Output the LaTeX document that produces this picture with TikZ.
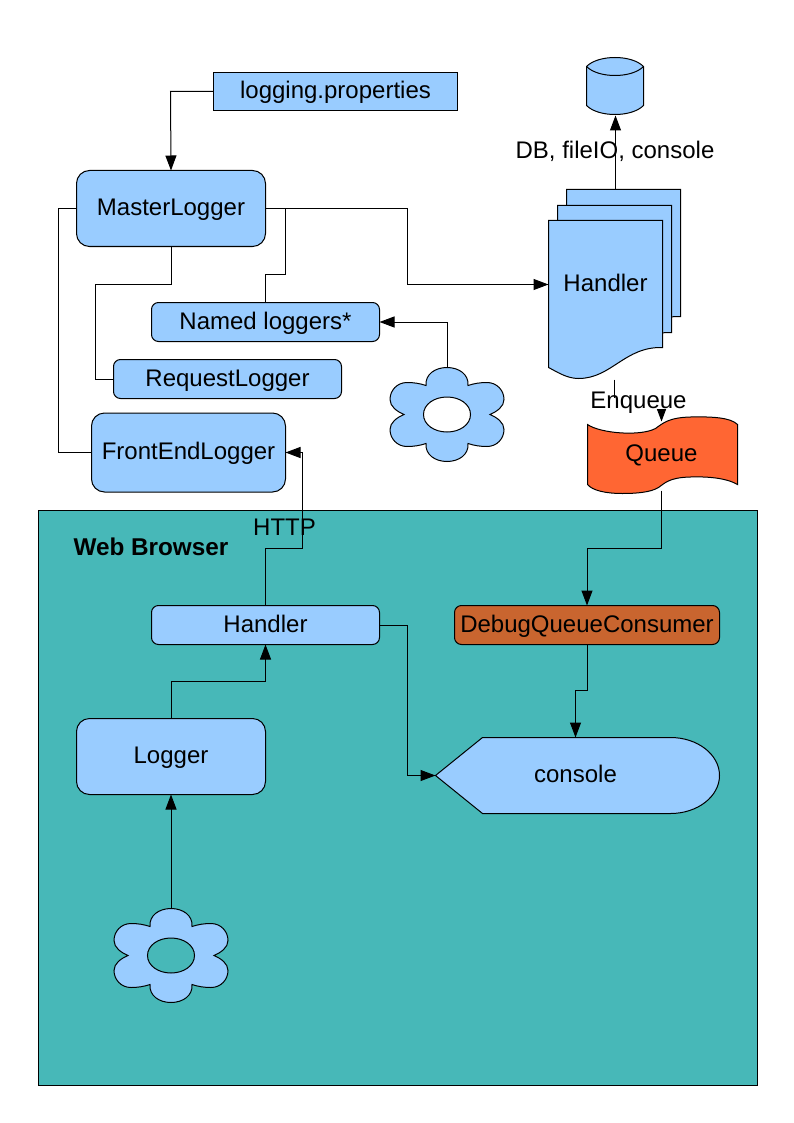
\documentclass[tikz,border=0pt]{standalone}
\usepackage{fontspec}
\setmainfont{Liberation Sans}
\usetikzlibrary{arrows.meta}
\definecolor{boxblue}{HTML}{99CCFF}
\definecolor{teal}{HTML}{47B8B8}
\definecolor{queueorange}{HTML}{FF6633}
\definecolor{consumer}{HTML}{C9652F}
\newcommand{\flowerpath}{
  (-21,-29) .. controls (-22,-40) and (-12,-47) .. (0,-47) .. controls (12,-47) and (22,-40) .. (21,-29)
  .. controls (27,-31) and (33,-32) .. (40,-32) .. controls (50,-32) and (57,-24) .. (57,-15) .. controls (57,-8) and (50,-3) .. (43,0)
  .. controls (50,3) and (57,8) .. (57,15) .. controls (57,24) and (50,32) .. (40,32) .. controls (33,32) and (27,31) .. (21,29)
  .. controls (22,40) and (12,47) .. (0,47) .. controls (-12,47) and (-22,40) .. (-21,29)
  .. controls (-27,31) and (-33,32) .. (-40,32) .. controls (-50,32) and (-57,24) .. (-57,15) .. controls (-57,8) and (-50,3) .. (-43,0)
  .. controls (-50,-3) and (-57,-8) .. (-57,-15) .. controls (-57,-24) and (-50,-32) .. (-40,-32) .. controls (-33,-32) and (-27,-31) .. (-21,-29) -- cycle
  (23.5,0) .. controls (23.5,-10) and (13,-17.5) .. (0,-17.5) .. controls (-13,-17.5) and (-23.5,-10) .. (-23.5,0)
  .. controls (-23.5,10) and (-13,17.5) .. (0,17.5) .. controls (13,17.5) and (23.5,10) .. (23.5,0) -- cycle}
\newcommand{\pagepath}{(548,220) -- (662,220) -- (662,347) .. controls (624,346) and (611,378) .. (578,378) .. controls (566,378) and (556,371) .. (548,367) -- cycle}
\tikzset{
  x=1pt,y=-1pt,
  every node/.style={font=\fontsize{24}{28}\selectfont,text=black,inner sep=0pt,outer sep=0pt,text height=16pt,text depth=2pt},
  shapeline/.style={draw=black,line width=1pt,fill=boxblue},
  bigbox/.style={shapeline,rounded corners=13pt,minimum width=189pt,minimum height=76pt},
  smallbox/.style={shapeline,rounded corners=7pt,minimum width=228pt,minimum height=39pt},
  plainbox/.style={shapeline,minimum width=244pt,minimum height=38pt},
  wire/.style={draw=black,line width=1pt},
  arrowwire/.style={wire,-{Triangle[length=15pt,width=11pt]}},
  flowershape/.style={shapeline,even odd rule,fill=boxblue}
}
\begin{document}
\begin{tikzpicture}
\useasboundingbox (-0.5,-0.5) rectangle (793.5,1122.5);
% browser area
\fill[teal] (38,510) rectangle (757,1085);
\draw[wire] (38,510) rectangle (757,1085);
\node[font=\fontsize{24.3}{28}\selectfont\bfseries,anchor=west] (browser) at (73,548) {Web Browser};
% boxes
\node[plainbox] (props) at (335,91) {logging.properties};
\node[bigbox] (master) at (170.5,208) {MasterLogger};
\node[smallbox] (named) at (265,321.5) {Named loggers*};
\node[smallbox] (request) at (227,378.5) {RequestLogger};
\node[bigbox,minimum width=194pt,minimum height=79pt] (front) at (188,452) {FrontEndLogger};
\node[smallbox] (bhandler) at (265,624.5) {Handler};
\node[smallbox,fill=consumer,minimum width=265pt] (consumerbox) at (586.5,624.5) {DebugQueueConsumer};
\node[bigbox] (logger) at (170.5,756) {Logger};
% flowers
\begin{scope}[shift={(446.5,414)}]
  \path[flowershape] \flowerpath;
  \coordinate (flowerA) at (0,-47);
\end{scope}
\begin{scope}[shift={(170.5,955)}]
  \path[flowershape] \flowerpath;
  \coordinate (flowerB) at (0,-47);
\end{scope}
% handler pages
\path[shapeline,shift={(18,-31)}] \pagepath;
\path[shapeline,shift={(9,-15)}] \pagepath;
\path[shapeline] \pagepath;
\node (hlabel) at (605,284) {Handler};
\coordinate (handlerIn) at (548,284);
\coordinate (handlerTop) at (615,189);
\coordinate (handlerOut) at (614,379);
% database
\path[shapeline] (586,66) -- (586,105) .. controls (592,111) and (603,114) .. (614.5,114) .. controls (626,114) and (637,111) .. (643,105) -- (643,66) .. controls (637,60) and (626,57) .. (614.5,57) .. controls (603,57) and (592,60) .. (586,66) -- cycle;
\draw[wire] (586,66) .. controls (592,72) and (603,75) .. (614.5,75) .. controls (626,75) and (637,72) .. (643,66);
\coordinate (dbBottom) at (615,115);
% queue
\path[shapeline,fill=queueorange] (587,424) .. controls (600,433) and (640,436) .. (655,428) .. controls (662,423) and (668,417) .. (690,416.5) .. controls (712,416) and (730,417) .. (737,424) -- (737,484) .. controls (725,477) and (705,476) .. (690,476.5) .. controls (668,477) and (664,483) .. (658,487) .. controls (650,492) and (635,493) .. (622,493) .. controls (605,493) and (592,490) .. (587,484) -- cycle;
\node (queue) at (661,454) {Queue};
\coordinate (queueTop) at (661,421);
\coordinate (queueBottom) at (661,490);
% console
\path[shapeline] (435,775) -- (482,737) -- (670,737) .. controls (697,737) and (719,754) .. (719,775) .. controls (719,796) and (697,813) .. (670,813) -- (482,813) -- cycle;
\node (console) at (575,775) {console};
\coordinate (consoleTip) at (435,775);
\coordinate (consoleTop) at (575,737);
% connectors
\draw[arrowwire] (props.west) -- ++(-43,0) -- (master.north);
\draw[wire] (master.west) -- ++(-18,0) |- (front.west);
\draw[wire] (master.south) -- ++(0,38) -- ++(-76,0) |- (request.west);
\draw[wire] (master.east) -- ++(20,0) -- ++(0,66) -- ++(-20,0) -- (named.north);
\draw[arrowwire] (master.east) -- ++(142,0) |- (handlerIn);
\draw[arrowwire] (flowerA) |- (named.east);
\draw[arrowwire] (handlerTop) -- (dbBottom);
\draw[arrowwire] (handlerOut) -- ++(0,22) -| (queueTop);
\draw[arrowwire] (bhandler.north) -- ++(0,-57) -- ++(37,0) |- (front.east);
\draw[arrowwire] (queueBottom) -- ++(0,58) -| (consumerbox.north);
\draw[arrowwire] (consumerbox.south) -- ++(0,46) -| (consoleTop);
\draw[arrowwire] (bhandler.east) -- ++(28,0) |- (consoleTip);
\draw[arrowwire] (logger.north) -- ++(0,-37) -| (bhandler.south);
\draw[arrowwire] (flowerB) -- (logger.south);
% labels
\node (dblabel) at (614.5,151) {DB, fileIO, console};
\node[fill=white,anchor=base,text height=11pt,text depth=-2pt] (enq) at (638,408) {Enqueue};
\node (http) at (284,528) {HTTP};
\end{tikzpicture}
\end{document}
